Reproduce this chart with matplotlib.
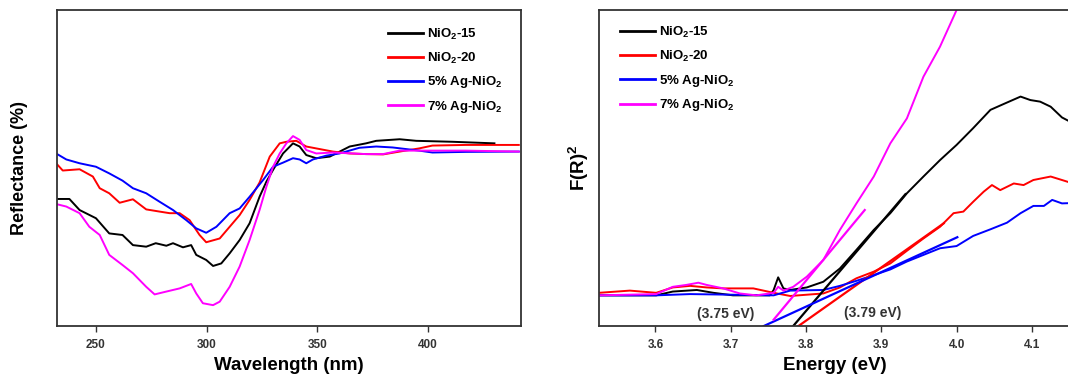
import matplotlib
matplotlib.use("Agg")
import matplotlib.pyplot as plt
import numpy as np

plt.rcParams['font.family'] = ['Liberation Sans', 'DejaVu Sans']
plt.rcParams['font.weight'] = 'bold'
plt.rcParams['mathtext.fontset'] = 'custom'
plt.rcParams['mathtext.rm'] = 'Liberation Sans:bold'
plt.rcParams['mathtext.default'] = 'rm'

labels = ["NiO$_2$-15", "NiO$_2$-20", "5% Ag-NiO$_2$", "7% Ag-NiO$_2$"]
colors = ["#000000", "#ff0000", "#0000ff", "#ff00ff"]

# ---- Left panel: reflectance vs wavelength ----
wl_black = [232.1, 238, 242.6, 250, 256, 262, 266.7, 272.7, 277, 281.8, 284.8, 289.3, 293, 295.3, 299.8, 302.9, 306.6, 310.4, 314.9, 319.4, 323.9, 327, 330, 334.5, 339, 342, 345, 349.5, 355.6, 364.6, 372, 376.6, 387.2, 394.7, 411, 430]
r_black = [40.2, 40.2, 36.7, 34.1, 29.3, 28.8, 25.6, 25.1, 26.2, 25.4, 26.2, 24.9, 25.6, 22.5, 20.9, 19.0, 19.8, 23.0, 27.2, 32.5, 40.9, 45.7, 49.4, 54.6, 57.8, 56.8, 54.1, 53.1, 53.6, 56.8, 57.8, 58.6, 59.1, 58.6, 58.3, 57.8]

wl_red = [232, 235, 242.6, 248.6, 251.7, 256, 260.7, 266.7, 272.7, 278.8, 283.3, 287.8, 292.3, 296.8, 299.8, 305.9, 310.4, 314.9, 319.4, 323.9, 328.5, 333, 336, 340.5, 345, 349.5, 357, 364.6, 372, 379.7, 387.2, 396, 402, 417, 441]
r_red = [51.5, 49.2, 49.6, 47.3, 43.6, 42.0, 39.0, 40.1, 36.9, 36.2, 35.7, 35.7, 33.5, 28.8, 26.5, 27.7, 31.4, 35.1, 39.9, 45.4, 53.6, 57.8, 58.3, 58.6, 56.8, 56.2, 55.2, 54.6, 54.4, 54.3, 55.2, 56.2, 57.1, 57.3, 57.3]

wl_blue = [232, 236.6, 242.6, 250, 256, 262, 266.7, 272.7, 278.8, 284.8, 290.8, 295.3, 299.8, 304.4, 310.4, 314.9, 319.4, 325.5, 330, 334.5, 339, 342, 345, 348, 354, 360, 369, 376.6, 384, 396, 402, 417, 441]
r_blue = [54.6, 52.7, 51.5, 50.4, 48.3, 46.0, 43.6, 42.0, 39.3, 36.7, 33.5, 30.9, 29.5, 31.4, 35.7, 37.2, 40.9, 46.2, 50.4, 51.7, 53.1, 52.7, 51.5, 52.7, 53.9, 54.6, 56.4, 56.8, 56.5, 55.5, 54.9, 55.1, 55.2]

wl_mag = [232, 236.6, 242.6, 247, 251.7, 256, 262, 266.7, 272.7, 276.5, 281.8, 287.8, 293, 295.3, 298.3, 302.9, 305.9, 310.4, 314.9, 319.4, 323.9, 327, 330, 333, 336, 339, 342, 345, 349.5, 357, 372, 379.7, 387.2, 402, 417, 441]
r_mag = [38.6, 37.8, 35.7, 31.4, 28.8, 22.5, 19.3, 16.7, 12.4, 10.0, 10.9, 11.9, 13.3, 10.3, 7.2, 6.6, 7.7, 12.4, 18.8, 27.2, 36.7, 44.1, 50.4, 54.6, 57.8, 60.1, 58.9, 55.7, 54.6, 54.9, 54.4, 54.4, 55.5, 55.5, 55.5, 55.2]

wl_ticks = [250, 300, 350, 400]

# ---- Right panel: F(R)^2 vs energy ----
e_black = [3.525, 3.601, 3.623, 3.655, 3.677, 3.703, 3.752, 3.757, 3.763, 3.770, 3.779, 3.801, 3.823, 3.845, 3.867, 3.890, 3.912, 3.934, 3.956, 3.978, 4.000, 4.022, 4.045, 4.063, 4.085, 4.098, 4.111, 4.125, 4.140, 4.152]
f_black = [9.7, 9.7, 10.9, 11.4, 10.5, 9.7, 9.7, 11.4, 15.4, 11.9, 11.4, 12.2, 14.0, 18.2, 24.1, 30.4, 35.7, 42.0, 47.3, 52.5, 57.3, 62.6, 68.4, 70.3, 72.6, 71.5, 71.0, 69.4, 66.0, 64.5]

e_red = [3.525, 3.566, 3.601, 3.623, 3.646, 3.668, 3.690, 3.730, 3.757, 3.779, 3.823, 3.845, 3.867, 3.890, 3.912, 3.934, 3.956, 3.978, 3.996, 4.009, 4.022, 4.036, 4.047, 4.058, 4.076, 4.089, 4.102, 4.125, 4.140, 4.152]
f_red = [10.5, 11.2, 10.5, 12.2, 12.7, 12.2, 11.9, 11.9, 10.5, 9.5, 10.3, 12.2, 15.1, 17.2, 19.8, 23.8, 27.7, 31.4, 35.7, 36.2, 39.3, 42.5, 44.6, 43.0, 45.1, 44.6, 46.2, 47.3, 46.2, 45.3]

e_blue = [3.525, 3.601, 3.646, 3.757, 3.779, 3.823, 3.845, 3.867, 3.890, 3.912, 3.934, 3.956, 3.978, 4.000, 4.022, 4.045, 4.067, 4.085, 4.102, 4.116, 4.127, 4.140, 4.152]
f_blue = [9.7, 9.7, 10.1, 9.7, 11.2, 11.4, 12.7, 14.3, 16.1, 17.9, 20.4, 22.5, 24.6, 25.3, 28.5, 30.6, 32.7, 35.7, 38.0, 38.0, 39.9, 38.8, 38.9]

e_mag = [3.525, 3.601, 3.623, 3.641, 3.657, 3.668, 3.690, 3.712, 3.734, 3.757, 3.763, 3.770, 3.783, 3.801, 3.823, 3.845, 3.867, 3.890, 3.912, 3.934, 3.956, 3.978, 4.001]
f_mag = [9.7, 10.1, 12.4, 13.0, 13.7, 13.0, 11.9, 10.3, 9.7, 10.5, 12.4, 11.2, 12.4, 15.6, 20.9, 30.4, 38.8, 47.3, 57.8, 65.7, 78.9, 88.4, 100.5]

# Tangent (band-gap extrapolation) lines: [start, end]
tan_e_black = [3.783, 3.932]
tan_f_black = [0.0, 41.7]
tan_e_red = [3.790, 3.983]
tan_f_red = [0.0, 32.5]
tan_e_blue = [3.744, 4.001]
tan_f_blue = [0.0, 28.1]
tan_e_mag = [3.757, 3.878]
tan_f_mag = [2.0, 36.7]

e_ticks = [3.6, 3.7, 3.8, 3.9, 4.0, 4.1]
gap_labels = ["(3.75 eV)", "(3.79 eV)"]
gap_label_x = [3.693, 3.889]
gap_label_y = [3.8, 4.1]

W, H = 1068, 374
fig = plt.figure(figsize=(W / 100, H / 100), dpi=100)

def px_axes(l, t, r, b):
    return fig.add_axes([l / W, 1 - b / H, (r - l) / W, (b - t) / H])

ax1 = px_axes(57, 10, 521, 326)
ax2 = px_axes(599, 10, 1071, 326)

lw = 1.4
for x, y, c, lab in zip([wl_black, wl_red, wl_blue, wl_mag],
                        [r_black, r_red, r_blue, r_mag], colors, labels):
    ax1.plot(x, y, color=c, lw=lw, label=lab)

for x, y, c, lab in zip([e_black, e_red, e_blue, e_mag],
                        [f_black, f_red, f_blue, f_mag], colors, labels):
    ax2.plot(x, y, color=c, lw=lw, label=lab)

for x, y, c in zip([tan_e_black, tan_e_red, tan_e_blue, tan_e_mag],
                   [tan_f_black, tan_f_red, tan_f_blue, tan_f_mag], colors):
    ax2.plot(x, y, color=c, lw=1.6)

for txt, x, y in zip(gap_labels, gap_label_x, gap_label_y):
    ax2.text(x, y, txt, ha='center', va='center', fontsize=10, fontweight='bold', color='#333333')

ax1.set_xlim(232.4, 442)
ax1.set_ylim(0, 100)
ax2.set_xlim(3.525, 4.152)
ax2.set_ylim(0, 100)

for ax in (ax1, ax2):
    ax.set_yticks([])
    ax.tick_params(axis='x', direction='out', length=4, width=1, labelsize=8.5, pad=5, colors='#333333')
    for s in ax.spines.values():
        s.set_linewidth(1.3)
        s.set_color('#333333')

ax1.set_xticks(wl_ticks)
ax1.set_xticklabels([str(t) for t in wl_ticks])
ax2.set_xticks(e_ticks)
ax2.set_xticklabels([f"{t:.1f}" for t in e_ticks])

leg_kw = dict(frameon=False, handlelength=2.65, handletextpad=0.3, labelspacing=0.66,
              loc='upper left', prop={'weight': 'bold', 'size': 9.5})
leg1 = ax1.legend(bbox_to_anchor=(0.687, 0.985), **leg_kw)
leg2 = ax2.legend(bbox_to_anchor=(0.02, 0.99), **leg_kw)
for leg in (leg1, leg2):
    for h in leg.get_lines():
        h.set_linewidth(2.0)

ax1.set_xlabel("Wavelength (nm)", fontsize=13.5, fontweight='bold')
ax1.xaxis.set_label_coords(0.5, -0.098)
ax1.set_ylabel("Reflectance (%)", fontsize=13, fontweight='bold')
ax1.yaxis.set_label_coords(-0.062, 0.5)
ax2.set_xlabel("Energy (eV)", fontsize=13.5, fontweight='bold')
ax2.xaxis.set_label_coords(0.5, -0.098)
ax2.set_ylabel("F(R)$^2$", fontsize=13.5, fontweight='bold')
ax2.yaxis.set_label_coords(-0.018, 0.5)

fig.savefig("out.png", dpi=100)
